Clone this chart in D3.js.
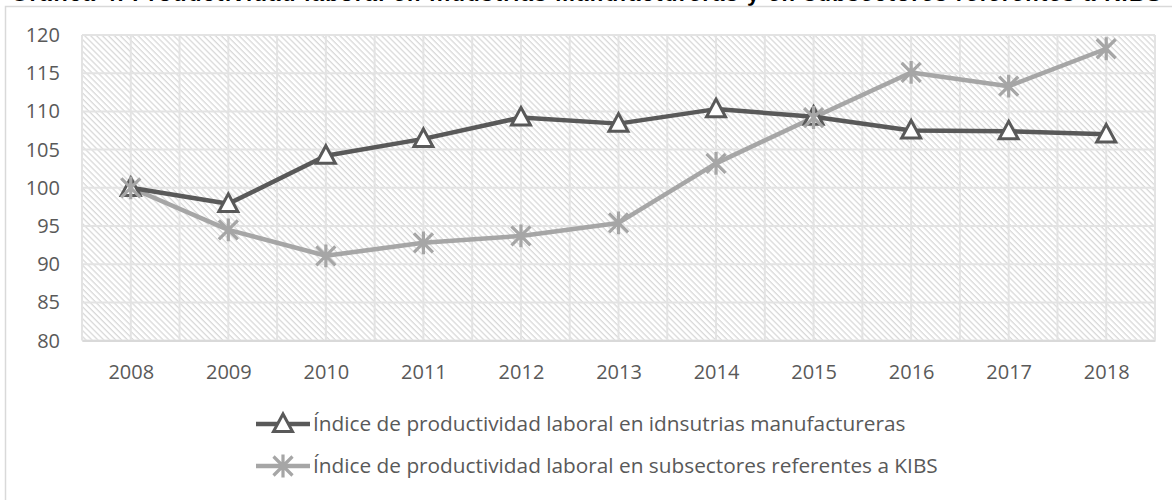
<!DOCTYPE html>
<html><head><meta charset="utf-8">
<script src="https://cdn.jsdelivr.net/npm/d3@7"></script>
<style>html,body{margin:0;padding:0;background:#fff;overflow:hidden}</style>
</head><body>
<svg id="c" width="1172" height="500"></svg>
<script>
const years = ["2008","2009","2010","2011","2012","2013","2014","2015","2016","2017","2018"];
const manufacturas = [100, 97.9, 104.2, 106.4, 109.2, 108.4, 110.3, 109.3, 107.5, 107.4, 107.0];
const kibs = [100, 94.5, 91.1, 92.8, 93.7, 95.4, 103.2, 109.2, 115.1, 113.3, 118.2];
const yTicks = [80, 85, 90, 95, 100, 105, 110, 115, 120];
const seriesNames = ["Índice de productividad laboral en idnsutrias manufactureras",
                     "Índice de productividad laboral en subsectores referentes a KIBS"];
const titleText = "Gráfica 4. Productividad laboral en industrias manufactureras y en subsectores referentes a KIBS";

const svg = d3.select("#c");
const font = "'Open Sans', 'DejaVu Sans', sans-serif";
const L = 82, R = 1155, T = 35, B = 340.6;

// title (mostly clipped above, as in the reference)
svg.append("text").attr("x", 586).attr("y", 0.8).attr("text-anchor", "middle")
  .attr("font-family", "'Liberation Sans', Arial, sans-serif").attr("font-weight", "bold")
  .attr("font-size", 22).attr("fill", "#000").attr("textLength", 1150).text(titleText);

// chart border
svg.append("rect").attr("x", 5.5).attr("y", 6.5).attr("width", 1200).attr("height", 520)
  .attr("fill", "none").attr("stroke", "#d9d9d9").attr("stroke-width", 1.5);

// hatch pattern
const defs = svg.append("defs");
const pat = defs.append("pattern").attr("id", "hatch").attr("patternUnits", "userSpaceOnUse")
  .attr("width", 4.2).attr("height", 4.2).attr("patternTransform", "rotate(-45)");
pat.append("rect").attr("width", 4.2).attr("height", 4.2).attr("fill", "#fff");
pat.append("line").attr("x1", 1).attr("y1", 0).attr("x2", 1).attr("y2", 4.2)
  .attr("stroke", "#d2d2d2").attr("stroke-width", 1.1);

const x = d3.scalePoint().domain(years).range([L, R]).padding(0.5);
const y = d3.scaleLinear().domain([80, 120]).range([B, T]);
const step = x.step();

svg.append("rect").attr("x", L).attr("y", T).attr("width", R - L).attr("height", B - T)
  .attr("fill", "url(#hatch)");

// vertical gridlines at half-category steps
const vx = [];
for (let i = 0; i <= years.length * 2; i++) vx.push(L + i * step / 2);
svg.append("g").selectAll("line").data(vx).join("line")
  .attr("x1", d => d).attr("x2", d => d).attr("y1", T).attr("y2", B)
  .attr("stroke", "#e3e3e3").attr("stroke-width", 2);
// horizontal gridlines
svg.append("g").selectAll("line").data(yTicks).join("line")
  .attr("x1", L).attr("x2", R).attr("y1", d => y(d)).attr("y2", d => y(d))
  .attr("stroke", "#e3e3e3").attr("stroke-width", 2);

// axes
const yAxis = svg.append("g").attr("transform", `translate(${L},0)`)
  .call(d3.axisLeft(y).tickValues(yTicks).tickSize(0).tickPadding(22));
yAxis.select(".domain").remove();
yAxis.selectAll("text").attr("font-family", font).attr("font-size", 20).attr("fill", "#595959");

const xAxis = svg.append("g").attr("transform", `translate(0,${B})`)
  .call(d3.axisBottom(x).tickSize(0).tickPadding(24));
xAxis.select(".domain").attr("stroke", "#d9d9d9").attr("stroke-width", 2);
xAxis.selectAll("text").attr("font-family", font).attr("font-size", 20).attr("fill", "#595959");

const line = d3.line().x((d, i) => x(years[i])).y(d => y(d));
const dark = "#595959", light = "#a6a6a6";

function triangle(g, cx, cy) {
  const s = 9.5;
  g.append("path").attr("d", `M${cx},${cy - s * 1.05} L${cx + s},${cy + s * 0.8} L${cx - s},${cy + s * 0.8} Z`)
    .attr("fill", "#fff").attr("stroke", dark).attr("stroke-width", 3).attr("stroke-linejoin", "miter");
}
function star(g, cx, cy) {
  const s = 9.5;
  g.append("path").attr("d",
    `M${cx - s},${cy - s} L${cx + s},${cy + s} M${cx + s},${cy - s} L${cx - s},${cy + s} M${cx},${cy - s * 1.2} L${cx},${cy + s * 1.2}`)
    .attr("stroke", light).attr("stroke-width", 3.2).attr("fill", "none");
}

// KIBS series
svg.append("path").datum(kibs).attr("d", line).attr("fill", "none")
  .attr("stroke", light).attr("stroke-width", 4.5).attr("stroke-linejoin", "round");
// Manufacturing series
svg.append("path").datum(manufacturas).attr("d", line).attr("fill", "none")
  .attr("stroke", dark).attr("stroke-width", 4.5).attr("stroke-linejoin", "round");
const gm = svg.append("g");
manufacturas.forEach((v, i) => triangle(gm, x(years[i]), y(v)));
const gk = svg.append("g");
kibs.forEach((v, i) => star(gk, x(years[i]), y(v)));

// legend
const legend = [{name: seriesNames[0], color: dark, mk: triangle, ly: 424},
                {name: seriesNames[1], color: light, mk: star, ly: 466}];
legend.forEach(d => {
  const g = svg.append("g");
  g.append("line").attr("x1", 256).attr("x2", 310).attr("y1", d.ly).attr("y2", d.ly)
    .attr("stroke", d.color).attr("stroke-width", 4.5);
  d.mk(g, 283, d.ly);
  g.append("text").attr("x", 313).attr("y", d.ly + 7).attr("font-family", font)
    .attr("font-size", 20.8).attr("fill", "#595959").text(d.name);
});
</script>
</body></html>
